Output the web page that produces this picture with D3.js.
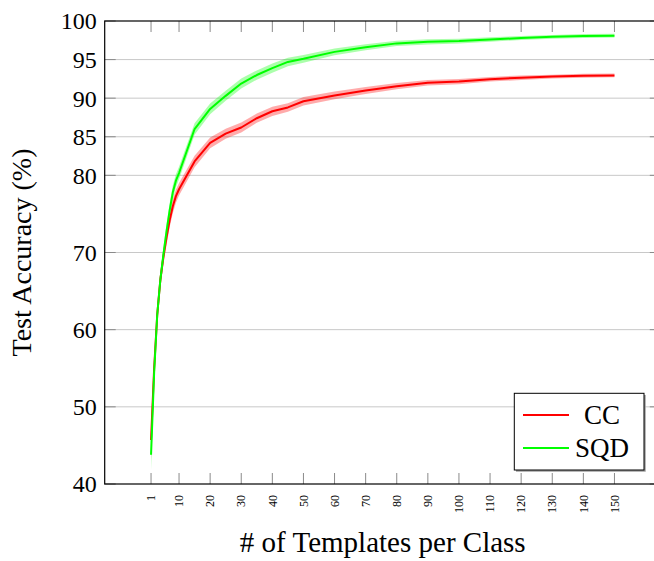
<!DOCTYPE html>
<html>
<head>
<meta charset="utf-8">
<script src="https://cdn.jsdelivr.net/npm/d3@7"></script>
<style>
  html, body { margin: 0; padding: 0; background: #fff; }
  svg { display: block; }
  text { font-family: "Liberation Serif", "DejaVu Serif", serif; fill: #000; }
</style>
</head>
<body>
<script>
// ---- data ----
const templates = [1,2,3,4,5,6,7,8,9,10,15,20,25,30,35,40,45,50,60,70,80,90,100,110,120,130,140,150];
const ccMean  = [45.7,55.0,62.0,66.5,69.5,72.0,74.2,76.0,77.3,78.2,81.8,84.2,85.4,86.2,87.4,88.3,88.8,89.6,90.35,91.0,91.55,92.0,92.15,92.45,92.65,92.8,92.9,92.95];
const sqdMean = [43.8,54.5,62.0,66.5,69.8,72.8,75.5,77.8,79.3,80.3,86.0,88.6,90.3,91.9,93.0,93.9,94.7,95.1,96.0,96.6,97.1,97.3,97.4,97.6,97.8,97.95,98.05,98.1];
const ccSd  = [2.5,1.6,1.3,1.1,1.0,0.95,0.9,0.9,0.85,0.8,0.75,0.7,0.65,0.65,0.6,0.6,0.55,0.55,0.5,0.45,0.4,0.35,0.35,0.3,0.3,0.25,0.25,0.25];
const sqdSd = [2.0,1.5,1.2,1.1,1.0,0.95,0.9,0.9,0.85,0.8,0.75,0.7,0.65,0.65,0.6,0.6,0.55,0.5,0.45,0.4,0.35,0.35,0.3,0.3,0.25,0.25,0.25,0.25];
const xTicks = [1,10,20,30,40,50,60,70,80,90,100,110,120,130,140,150];
const yTicks = [40,50,60,70,80,85,90,95,100];
const seriesNames = ["CC","SQD"];
const seriesColors = ["#ff0000","#00ff00"];

const W = 654, H = 561;
const pL = 104.7, pR = 660.8, pT = 21, pB = 484;

const svg = d3.select("body").append("svg").attr("width", W).attr("height", H);

const x = d3.scaleLinear().domain([-13.9, 164.9]).range([pL, pR]);
const y = d3.scaleLinear().domain([40, 100]).range([pB, pT]);

// grid
svg.append("g").selectAll("line").data(yTicks.filter(t => t > 40 && t < 100)).join("line")
  .attr("x1", pL).attr("x2", pR)
  .attr("y1", d => y(d)).attr("y2", d => y(d))
  .attr("stroke", "#c8c8c8").attr("stroke-width", 1);

// ticks (inward, grey) on all four sides
const tickLen = 11;
const tg = svg.append("g").attr("stroke", "#8a8a8a").attr("stroke-width", 1);
xTicks.forEach(t => {
  tg.append("line").attr("x1", x(t)).attr("x2", x(t)).attr("y1", pB).attr("y2", pB - tickLen);
  tg.append("line").attr("x1", x(t)).attr("x2", x(t)).attr("y1", pT).attr("y2", pT + tickLen);
});
yTicks.forEach(t => {
  tg.append("line").attr("x1", pL).attr("x2", pL + tickLen).attr("y1", y(t)).attr("y2", y(t));
  tg.append("line").attr("x1", pR).attr("x2", pR - tickLen).attr("y1", y(t)).attr("y2", y(t));
});

// bands and lines
const series = [
  {name: seriesNames[0], mean: ccMean, sd: ccSd, color: seriesColors[0]},
  {name: seriesNames[1], mean: sqdMean, sd: sqdSd, color: seriesColors[1]}
];
const area = d3.area()
  .x((d, i) => x(templates[i]))
  .y0(d => y(d.m - d.s))
  .y1(d => y(d.m + d.s));
const line = d3.line()
  .x((d, i) => x(templates[i]))
  .y(d => y(d));

series.forEach(s => {
  const pts = s.mean.map((m, i) => ({m: m, s: s.sd[i]}));
  svg.append("path").datum(pts).attr("d", area)
    .attr("fill", s.color).attr("fill-opacity", 0.33).attr("stroke", "none");
});
series.forEach(s => {
  svg.append("path").datum(s.mean).attr("d", line)
    .attr("fill", "none").attr("stroke", s.color).attr("stroke-width", 2)
    .attr("stroke-linejoin", "round");
});

// axis frame
svg.append("rect").attr("x", pL).attr("y", pT)
  .attr("width", pR - pL).attr("height", pB - pT)
  .attr("fill", "none").attr("stroke", "#000").attr("stroke-width", 1.2);

// y tick labels
svg.append("g").selectAll("text").data(yTicks).join("text")
  .attr("x", pL - 8).attr("y", d => y(d)).attr("dy", "0.35em")
  .attr("text-anchor", "end").style("font-size", "24px")
  .text(d => d);

// x tick labels (rotated)
svg.append("g").selectAll("text").data(xTicks).join("text")
  .attr("transform", d => `translate(${x(d)},${pB + 11}) rotate(-90)`)
  .attr("dy", "0.35em").attr("text-anchor", "end").style("font-size", "12px")
  .text(d => d);

// axis titles
svg.append("text")
  .attr("x", (pL + pR) / 2).attr("y", 552)
  .attr("text-anchor", "middle").style("font-size", "29px")
  .text("# of Templates per Class");
svg.append("text")
  .attr("transform", `translate(31,${(pT + pB) / 2}) rotate(-90)`)
  .attr("text-anchor", "middle").style("font-size", "28px")
  .text("Test Accuracy (%)");

// legend
const lg = svg.append("g");
lg.append("rect").attr("x", 516).attr("y", 395).attr("width", 129.7).attr("height", 76.7)
  .attr("fill", "#9a9a9a");
lg.append("rect").attr("x", 514.3).attr("y", 393.3).attr("width", 129.7).attr("height", 76.7)
  .attr("fill", "#fff").attr("stroke", "#000").attr("stroke-width", 1);
series.forEach((s, i) => {
  const ly = 415 + i * 33;
  lg.append("line").attr("x1", 523).attr("x2", 569).attr("y1", ly).attr("y2", ly)
    .attr("stroke", s.color).attr("stroke-width", 2);
  lg.append("text").attr("x", 602).attr("y", ly).attr("dy", "0.35em")
    .attr("text-anchor", "middle").style("font-size", "27px").text(s.name);
});
</script>
</body>
</html>
